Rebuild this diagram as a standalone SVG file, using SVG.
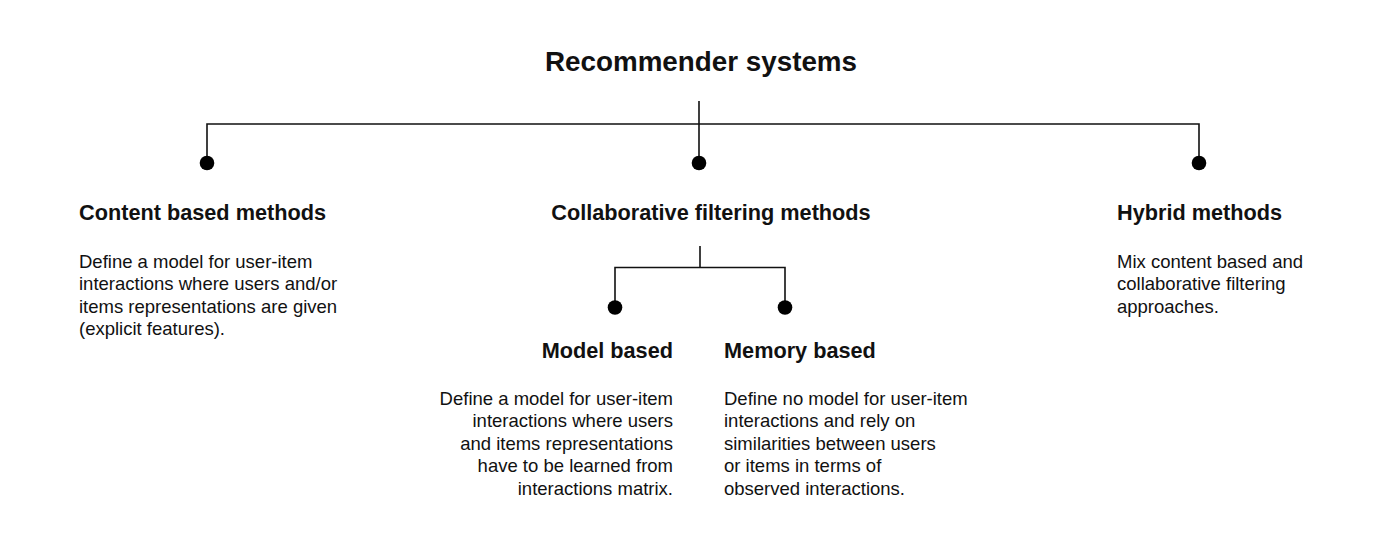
<svg xmlns="http://www.w3.org/2000/svg" width="1400" height="552" viewBox="0 0 1400 552">
  <style>
    text { font-family: "Liberation Sans", Arial, Helvetica, sans-serif; fill: #111; }
    .title { font-size: 27.8px; font-weight: bold; }
    .head { font-size: 21.7px; font-weight: bold; }
    .body { font-size: 18.5px; }
    .conn { fill: none; stroke: #111; stroke-width: 1.6; }
    .dot { fill: #000; }
  </style>
  <rect width="1400" height="552" fill="#fff"/>

  <g id="connectors">
    <path class="conn" d="M699 101 V124 M207 163 V124 H1199 V163 M699 124 V163"/>
    <circle class="dot" cx="207" cy="163" r="7.3"/>
    <circle class="dot" cx="699" cy="163" r="7.3"/>
    <circle class="dot" cx="1199" cy="163" r="7.3"/>
    <path class="conn" d="M700 246 V267.5 M615 307.5 V267.5 H785 V307.5"/>
    <circle class="dot" cx="615" cy="307.5" r="7.3"/>
    <circle class="dot" cx="785" cy="307.5" r="7.3"/>
  </g>

  <g id="root">
    <text class="title" x="701" y="71" text-anchor="middle">Recommender systems</text>
  </g>

  <g id="content-based">
    <text class="head" x="79" y="220">Content based methods</text>
    <text class="body" x="79" y="267.5">Define a model for user-item</text>
    <text class="body" x="79" y="290">interactions where users and/or</text>
    <text class="body" x="79" y="312.5">items representations are given</text>
    <text class="body" x="79" y="335">(explicit features).</text>
  </g>

  <g id="collaborative">
    <text class="head" x="711" y="220" text-anchor="middle">Collaborative filtering methods</text>
  </g>

  <g id="hybrid">
    <text class="head" x="1117" y="220">Hybrid methods</text>
    <text class="body" x="1117" y="267.5">Mix content based and</text>
    <text class="body" x="1117" y="290">collaborative filtering</text>
    <text class="body" x="1117" y="312.5">approaches.</text>
  </g>

  <g id="model-based">
    <text class="head" x="673" y="357.5" text-anchor="end">Model based</text>
    <text class="body" x="673" y="404.5" text-anchor="end">Define a model for user-item</text>
    <text class="body" x="673" y="427" text-anchor="end">interactions where users</text>
    <text class="body" x="673" y="449.5" text-anchor="end">and items representations</text>
    <text class="body" x="673" y="472" text-anchor="end">have to be learned from</text>
    <text class="body" x="673" y="494.5" text-anchor="end">interactions matrix.</text>
  </g>

  <g id="memory-based">
    <text class="head" x="724" y="357.5">Memory based</text>
    <text class="body" x="724" y="404.5">Define no model for user-item</text>
    <text class="body" x="724" y="427">interactions and rely on</text>
    <text class="body" x="724" y="449.5">similarities between users</text>
    <text class="body" x="724" y="472">or items in terms of</text>
    <text class="body" x="724" y="494.5">observed interactions.</text>
  </g>
</svg>
